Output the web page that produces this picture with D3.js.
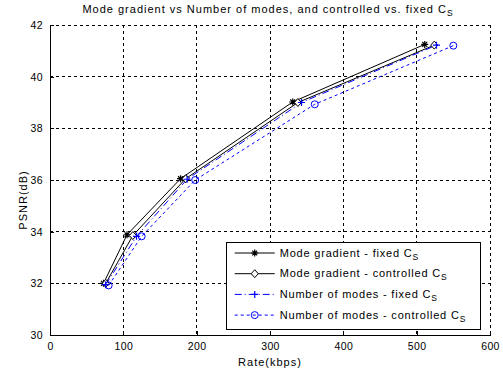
<!DOCTYPE html>
<html>
<head>
<meta charset="utf-8">
<script src="https://cdn.jsdelivr.net/npm/d3@7"></script>
<style>
  body { margin: 0; background: #fff; }
  text { font-family: "Liberation Sans", Arial, sans-serif; }
</style>
</head>
<body>
<div id="chart"></div>
<script>
// ---- data ----
const xTicks = [0, 100, 200, 300, 400, 500, 600];
const yTicks = [30, 32, 34, 36, 38, 40, 42];

const mgFixed      = [[73, 32.0], [105, 33.88], [178, 36.05], [331, 39.02], [511, 41.25]];
const mgControlled = [[76, 32.0], [113, 33.85], [185, 36.05], [338, 39.0], [524, 41.22]];
const nmFixed      = [[76, 31.95], [118, 33.82], [187, 36.03], [343, 39.0], [527, 41.22]];
const nmControlled = [[80, 31.92], [125, 33.82], [198, 36.0], [361, 38.93], [550, 41.2]];

const seriesNames = [
  "Mode gradient - fixed C",
  "Mode gradient - controlled C",
  "Number of modes - fixed C",
  "Number of modes - controlled C"
];

const series = [
  { name: seriesNames[0], data: mgFixed, color: "#000", dash: null, marker: "star" },
  { name: seriesNames[1], data: mgControlled, color: "#000", dash: null, marker: "diamond" },
  { name: seriesNames[2], data: nmFixed, color: "#0000ff", dash: "7,3,1,3", marker: "plus" },
  { name: seriesNames[3], data: nmControlled, color: "#0000ff", dash: "3,3", marker: "circle" }
];

const width = 503, height = 373;
const margin = { top: 25, right: 13, bottom: 38, left: 50 };
const w = width - margin.left - margin.right;
const h = height - margin.top - margin.bottom;

const svg = d3.select("#chart").append("svg")
  .attr("width", width).attr("height", height);

const g = svg.append("g").attr("transform", `translate(${margin.left},${margin.top})`);

const x = d3.scaleLinear().domain([0, 600]).range([0, w]);
const y = d3.scaleLinear().domain([30, 42]).range([h, 0]);

// grid
g.append("g").selectAll("line").data(xTicks.slice(1)).enter().append("line")
  .attr("x1", d => x(d)).attr("x2", d => x(d)).attr("y1", 0).attr("y2", h)
  .attr("stroke", "#000").attr("stroke-width", 1).attr("stroke-dasharray", "3,3")
  .attr("shape-rendering", "crispEdges");
g.append("g").selectAll("line").data(yTicks.slice(1)).enter().append("line")
  .attr("y1", d => y(d)).attr("y2", d => y(d)).attr("x1", 0).attr("x2", w)
  .attr("stroke", "#000").attr("stroke-width", 1).attr("stroke-dasharray", "3,3")
  .attr("shape-rendering", "crispEdges");

// axes
const xAxis = g.append("g").attr("transform", `translate(0,${h})`)
  .call(d3.axisBottom(x).tickValues(xTicks).tickSizeInner(-4).tickSizeOuter(0).tickPadding(8));
const yAxis = g.append("g")
  .call(d3.axisLeft(y).tickValues(yTicks).tickSizeInner(-4).tickSizeOuter(0).tickPadding(7));
[xAxis, yAxis].forEach(a => {
  a.selectAll("text").attr("font-size", 10.5).attr("fill", "#000")
    .attr("letter-spacing", 0.4)
    .attr("font-family", "Liberation Sans, Arial, sans-serif");
  a.selectAll("line, path").attr("stroke", "#000").attr("shape-rendering", "crispEdges");
});

// lines
const line = d3.line().x(d => x(d[0])).y(d => y(d[1]));

series.forEach(s => {
  g.append("path").datum(s.data)
    .attr("fill", "none").attr("stroke", s.color).attr("stroke-width", 1)
    .attr("stroke-dasharray", s.dash).attr("d", line);
});

function drawMarker(sel, type, color, cx, cy) {
  const r = 3.5;
  if (type === "star") {
    sel.append("path").attr("d",
      `M${cx - r},${cy}L${cx + r},${cy}M${cx},${cy - r}L${cx},${cy + r}` +
      `M${cx - r * 0.7},${cy - r * 0.7}L${cx + r * 0.7},${cy + r * 0.7}` +
      `M${cx - r * 0.7},${cy + r * 0.7}L${cx + r * 0.7},${cy - r * 0.7}`)
      .attr("stroke", color).attr("stroke-width", 1.2).attr("fill", "none");
  } else if (type === "diamond") {
    sel.append("path").attr("d",
      `M${cx},${cy - r - 0.5}L${cx + r},${cy}L${cx},${cy + r + 0.5}L${cx - r},${cy}Z`)
      .attr("stroke", color).attr("stroke-width", 1).attr("fill", "#fff");
  } else if (type === "plus") {
    sel.append("path").attr("d",
      `M${cx - r},${cy}L${cx + r},${cy}M${cx},${cy - r}L${cx},${cy + r}`)
      .attr("stroke", color).attr("stroke-width", 1.2).attr("fill", "none");
  } else {
    sel.append("circle").attr("cx", cx).attr("cy", cy).attr("r", r)
      .attr("stroke", color).attr("stroke-width", 1).attr("fill", "none");
  }
}

series.forEach(s => {
  const mg = g.append("g");
  s.data.forEach(d => drawMarker(mg, s.marker, s.color, x(d[0]), y(d[1])));
});

// title and labels
const title = svg.append("text").attr("x", 268).attr("y", 13)
  .attr("text-anchor", "middle").attr("font-size", 11).attr("letter-spacing", 1)
  .attr("fill", "#000");
title.append("tspan").text("Mode gradient vs Number of modes, and controlled vs. fixed C");
title.append("tspan").attr("font-size", 8.5).attr("dy", 3).text("S");

svg.append("text").attr("x", margin.left + w / 2).attr("y", 366)
  .attr("text-anchor", "middle").attr("font-size", 11).attr("letter-spacing", 1)
  .text("Rate(kbps)");

svg.append("text").attr("transform", `translate(27,200) rotate(-90)`)
  .attr("text-anchor", "middle").attr("font-size", 11).attr("letter-spacing", 1)
  .text("PSNR(dB)");

// legend
const legend = g.append("g").attr("transform", `translate(${x(241)},${y(33.6)})`);
legend.append("rect").attr("width", 254).attr("height", 87)
  .attr("fill", "#fff").attr("stroke", "#000").attr("stroke-width", 1)
  .attr("shape-rendering", "crispEdges");

series.forEach((s, i) => {
  const yy = 11 + i * 20.7;
  const item = legend.append("g");
  item.append("line").attr("x1", 8).attr("x2", 48).attr("y1", yy).attr("y2", yy)
    .attr("stroke", s.color).attr("stroke-dasharray", s.dash);
  drawMarker(item, s.marker, s.color, 28, yy);
  const t = item.append("text").attr("x", 53).attr("y", yy + 3.5)
    .attr("font-size", 11).attr("letter-spacing", 0.8).attr("fill", "#000");
  t.append("tspan").text(s.name);
  t.append("tspan").attr("font-size", 8.5).attr("dy", 3).text("S");
});
</script>
</body>
</html>
